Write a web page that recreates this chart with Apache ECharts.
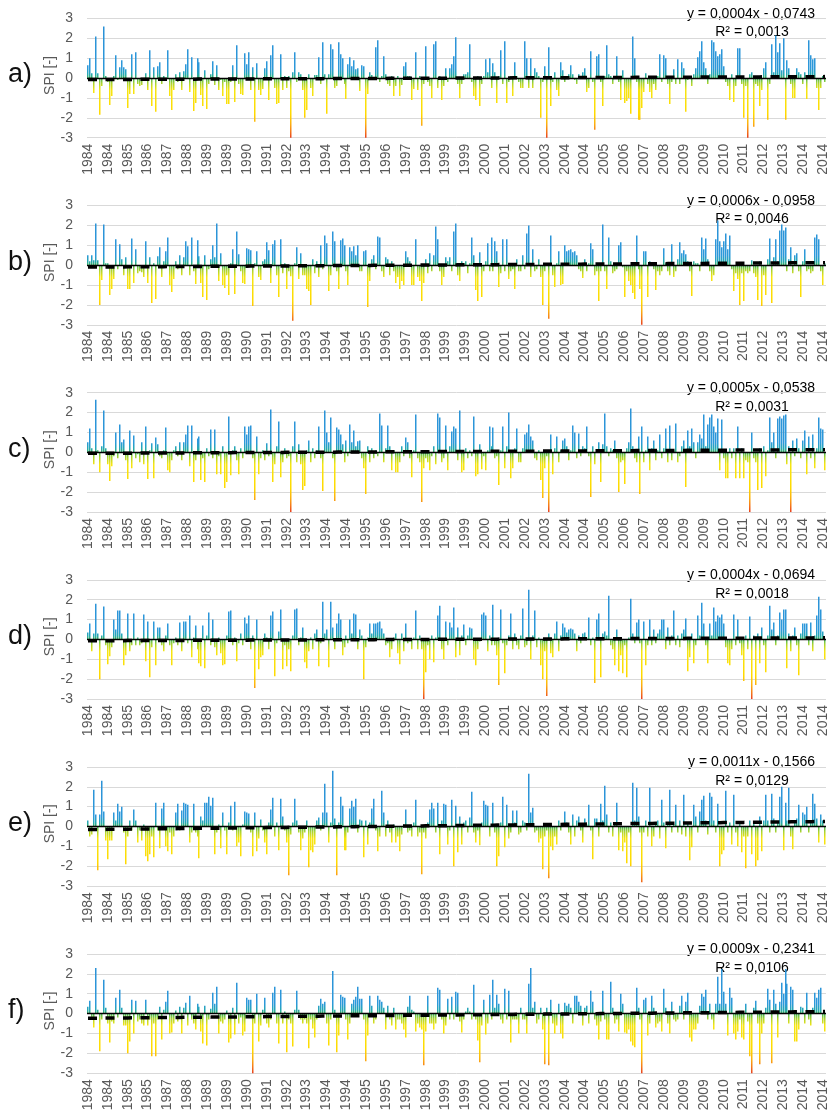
<!DOCTYPE html>
<html>
<head>
<meta charset="utf-8">
<title>SPI 1984-2014</title>
<script src="https://cdn.jsdelivr.net/npm/echarts@6/dist/echarts.min.js"></script>
<style>
html, body { margin: 0; padding: 0; background: #fff; }
#main { width: 830px; height: 1118px; }
</style>
</head>
<body>
<div id="main"></div>
<script>
// x axis tick labels (one every 10 months)
var ticksMain = ['1984','1984','1985','1986','1987','1988','1989','1989','1990','1991','1992','1993','1994','1994','1995','1996','1997','1998','1999','1999',
  '2000','2001','2002','2003','2004','2004','2005','2006','2007','2008','2009','2009','2010','2011','2012','2013','2014','2014'];
var ticksF = ['1984','1984','1985','1985','1987','1988','1989','1989','1990','1991','1992','1993','1994','1994','1995','1995','1997','1998','1999','1999',
  '2000','2001','2002','2003','2004','2004','2005','2005','2007','2008','2009','2009','2010','2011','2012','2013','2014','2014'];

// monthly SPI values, one row = one year (1984 ... 2014)
var spiA = [
  .65, 1.0, .25, -.75, 2.1, .25, -1.85, -.4, 2.6, .1, -.2, -1.35,
  -.9, .1, 1.15, -.1, .55, .9, .55, .45, -1.5, -.8, 1.2, -.8,
  1.3, -.3, -.4, -.35, -.1, .25, -.6, 1.4, -1.4, .55, -1.7, .6,
  .8, -.3, .1, -.1, 1.4, -.9, -1.6, -.6, .2, -.2, .3, -.6,
  .35, .7, 1.45, -.7, 1.05, -1.65, -1.25, 1.0, .8, -.85, -1.4, .4,
  -1.55, -.3, .2, .85, -.35, .65, -.6, -.1, -.9, -.2, -1.3, -1.3,
  -.2, .65, -1.2, 1.65, -.3, -.8, -.85, 1.25, .7, 1.3, -.6, .55,
  -2.2, .75, -.6, -.85, -.55, .5, .85, -1.1, 1.15, 1.65, -.5, -1.3,
  -1.25, 1.2, -.6, .1, -.5, .1, -3.0, .3, 1.3, -.2, .3, .2,
  -.6, -2.0, -1.6, .2, -.5, -.9, .15, .15, 1.05, -.3, 1.8, .2,
  -1.8, .2, 1.7, 1.45, -.5, -.4, 1.8, 1.2, 1.0, -.3, -1.05, .7,
  1.05, .6, .9, .45, .5, -.65, .65, .6, -3.0, -.8, .3, .15,
  -.1, 1.55, 1.9, -.2, .1, 1.1, .2, -.3, -.4, .1, -.9, -.4,
  .1, -.9, -.35, .6, .8, .1, .1, -1.1, -.55, 1.3, -.6, .1,
  -2.4, -.3, 1.6, -.2, -.4, -1.0, 1.7, 1.85, -.5, .1, -1.1, -.4,
  .5, -.2, .5, .7, 1.1, 2.05, -.3, -1.0, -.3, .2, .2, .3,
  1.7, -.2, -.9, -1.1, .1, -1.4, -.3, .1, .95, .3, 1.0, -.5,
  .75, .3, -1.25, .1, 1.4, -.3, 1.85, -1.25, -.2, .1, -.9, .8,
  .1, -.2, -.5, -.5, 1.85, 1.0, -.5, 1.0, -.5, .5, .3, .1,
  -2.0, -.2, .6, -3.0, 1.55, -1.4, -.2, .3, -.6, -.9, .8, .4,
  -.2, .1, .2, .65, .2, -.1, -.3, .2, .1, .3, .5, -.7,
  -.5, 1.35, -.2, -2.6, 1.1, 1.2, -.2, -1.4, .1, 1.65, .2, .1,
  -.3, .1, 1.1, -.2, -1.1, .4, -1.25, -1.15, -1.0, -1.8, 2.1, 1.0,
  -.2, -2.1, -2.1, -1.5, -.7, .25, -.3, -.7, -1.0, -.3, -.6, .1,
  1.2, -.2, 1.15, 1.0, -.3, -1.3, -.2, .45, -.3, .95, -.3, .8,
  .5, -1.7, -.1, .1, -.4, .2, .5, 1.05, 1.35, 1.85, .8, .5,
  -.3, .2, 1.9, 1.8, 1.35, 1.1, 1.2, 1.45, .6, -.2, -.4, -1.1,
  .2, -1.2, -.4, 1.5, 1.5, -.3, -2.0, -.4, -3.0, .2, .3, -2.45,
  -.3, -.4, -1.4, -.6, .5, .8, -2.1, -.3, 1.7, .3, 2.15, 1.3,
  1.75, .4, 2.0, -2.1, .9, .5, -.3, -1.0, -1.0, .5, .3, .2,
  -.3, .3, -1.05, 1.9, 1.15, .95, 1.0, -.5, -1.6, -.5, .1, -.2
];
var spiB = [
  .5, .2, .5, .25, 2.1, .25, -2.0, -.75, 2.05, .1, .1, -1.5,
  -1.2, -.7, 1.3, -.2, 1.05, .3, -.5, .4, -1.2, -1.2, 1.35, -.9,
  .8, -.4, -.3, -.35, -.6, 1.2, -.9, .4, -1.9, .1, -1.7, .45,
  .9, -.6, .2, .7, 1.4, -1.0, -1.35, -.7, .2, -.2, .5, -.5,
  .4, 1.2, .95, -.5, 1.4, -.3, -.95, 1.25, .45, -.9, -1.6, .5,
  -1.75, -.2, .3, 1.0, .4, 2.1, -.8, .6, -1.0, -1.15, -.5, -1.5,
  .1, .8, -1.45, 1.7, .55, -.3, -.9, -.95, .85, .8, .75, -2.05,
  .1, .7, -.6, -.75, .2, .3, 1.15, .75, -.9, 1.05, 1.25, -.5,
  -1.6, 1.3, -.4, .1, -1.2, -.3, -.55, -2.8, .1, .9, -.7, .6,
  -.5, -.5, -1.2, -1.3, -2.0, .3, -.4, .2, -.6, 1.0, -.2, 1.5,
  1.1, -1.3, -.5, 1.7, 1.2, -.3, -1.2, 1.25, 1.35, 1.0, -.3, -1.0,
  .9, .7, .95, .5, 1.0, -.3, -.3, .7, .75, -2.1, -.8, .3,
  .5, -.2, 1.45, 1.4, -.3, -.6, .4, .3, -.5, .2, -.3, -.9,
  -.6, -1.2, -.8, -1.0, .7, .4, .2, -1.0, -1.0, 1.3, -.6, -.8,
  -1.8, -.9, .3, -.4, .6, -.3, .5, 1.95, 1.3, -.3, -1.0, -.6,
  .4, .2, .4, -.3, 1.7, 2.1, -.5, -.8, .2, .1, .2, -.4,
  .1, 1.4, .5, -1.25, -1.8, .65, -1.6, -.3, .2, 1.1, -.3, 1.4,
  -.3, 1.2, .7, -1.1, -.4, 1.3, -.3, 1.3, -.7, -.3, -.2, -1.2,
  .3, -.3, -.3, .5, -.2, 1.6, 2.0, -.6, .8, -.3, -.2, .3,
  -.6, -2.0, -.3, .1, -2.7, 1.5, -.5, -1.1, .1, .7, -1.0, -.95,
  1.0, .7, .75, .8, .65, .7, .5, -.2, -.3, -.65, .3, -.3,
  .1, 1.1, .8, -.5, -.3, -1.8, -.3, 2.05, -.3, -1.2, 1.4, .2,
  -.4, -.3, -.2, 1.0, 1.15, -.1, -1.6, -.3, -.8, -1.0, -1.4, -1.7,
  1.5, -.2, -1.2, -3.0, .7, .7, -1.6, .2, .1, -.2, -1.25, -.3,
  -.5, -.3, .85, .1, -.3, -.5, 1.05, -.6, -.3, .3, 1.15, .6,
  .75, .55, .2, -.3, -1.55, .2, .1, .1, -.3, 1.4, .8, 1.35,
  .3, -.3, -.8, -.5, 1.3, 2.25, 1.2, .9, 1.2, 1.6, .8, 1.5,
  -.2, -1.3, -.4, -.7, -2.0, -.4, -1.8, -.3, -.4, -.3, .25, -.4,
  -.6, -1.75, .2, -2.05, -.5, -1.5, .3, 1.35, -1.9, .4, 1.3, .2,
  1.75, 2.05, 1.75, 1.9, -.3, .3, .9, -.4, .5, .6, -.3, -1.6,
  .2, .8, -.3, -.2, -.4, -.3, 1.4, 1.55, 1.3, -.3, -1.0, .1
];
var spiC = [
  .5, 1.2, .2, -.6, 2.65, .1, -1.0, .3, 2.1, .2, -.6, -1.45,
  -.7, -.2, 1.0, -.3, 1.4, .5, .65, -.4, -1.35, 1.1, -.8, .85,
  -.3, -.1, -.5, .5, -.6, 1.3, -1.35, .1, .45, -1.3, .75, .4,
  -.2, -.3, .1, 1.25, -.9, -1.0, -.4, .1, .3, -.2, .5, -.4,
  .5, .9, 1.35, -.7, 1.35, -1.5, -.4, .7, .8, -1.4, -.3, -1.5,
  .2, -.2, 1.15, -.3, 1.15, -1.1, -.2, -1.1, .3, -1.8, -1.5, 1.8,
  -1.15, .1, .3, -.4, -1.1, .2, -.3, 1.3, .9, 1.3, 1.35, -.3,
  -2.4, .8, -1.1, -.3, .1, -.4, .45, -.2, 2.15, -1.5, -.6, .3,
  1.55, -1.25, -.5, .2, -.3, -.2, -3.0, .3, 1.55, -.5, .4, -.6,
  -1.9, -1.7, .1, .6, -.5, .2, -.3, .1, 1.3, -.3, -1.95, 2.1,
  1.0, .5, 1.75, -.3, -2.45, 1.25, 1.15, .9, .4, -.5, .6, -.2,
  1.4, .5, 1.1, .3, .55, .6, -.3, -.8, -2.1, .3, -.5, .2,
  -.3, .1, -.2, 1.95, 1.35, -.5, .2, 1.35, .3, -.9, .1, -1.0,
  -1.0, -.5, .3, -.2, .75, .5, -.3, -1.25, .1, 1.9, -.3, -.5,
  -2.5, -.8, -.3, -.5, -.9, -.2, .3, -.6, 1.95, 1.75, -.5, -.3,
  1.35, -.9, .3, 1.05, 1.3, 1.2, -.4, 2.1, -1.0, -.9, .2, -.3,
  .1, -.2, 1.8, -1.2, -1.1, .4, -.85, -.2, -.9, .1, 1.3, .3,
  1.25, -.3, -.2, -1.65, .1, 1.3, -.8, .3, 2.0, -1.3, -.8, .2,
  1.2, -.5, -.5, .2, .9, 1.0, 1.4, .8, .6, -.3, -.4, .1,
  -1.4, -2.3, -.8, -.2, -3.0, .9, -1.1, .2, .8, -.5, .1, .6,
  .7, .3, -.4, .1, 1.35, 1.0, -.3, .95, -.2, .3, .2, 1.3,
  -.2, -2.25, .3, -.6, .1, .5, -1.5, .4, 1.95, .3, -.2, .2,
  .1, .6, -.3, -2.0, -.5, -.4, -1.6, .2, .5, 2.2, .3, -.3,
  -.5, .8, -2.1, 1.3, -.5, .1, .8, -.9, .2, .6, -.4, .1,
  .9, -.3, .2, 1.2, -.5, 1.35, -.4, .1, 1.45, -.5, -.2, .3,
  .6, -1.75, 1.1, .3, 1.2, .5, -.3, .5, .9, .7, 1.9, .3,
  1.4, 1.75, 1.9, 1.3, 1.0, 1.7, -.9, 1.65, -.3, -1.3, -1.3, .2,
  -.3, .2, -1.3, 1.3, -1.3, .2, -1.3, -.4, -.5, -3.0, 1.0, -.3,
  -.5, -1.9, .2, -1.8, .3, -1.2, .1, 1.75, .5, 1.0, -.3, 1.7,
  1.8, 1.7, 1.85, 1.9, -.6, .3, -3.0, .6, -.2, .7, .2, -.3,
  .6, 1.1, -1.1, .8, -.3, .9, -.8, .2, 1.75, 1.2, 1.15, -.9
];
var spiD = [
  .35, .8, -.6, .3, 1.8, .3, -2.0, .2, 1.65, -.3, -1.25, -.85,
  -.4, 1.0, .5, 1.45, 1.45, .3, -1.3, -.8, 1.3, -.6, -.3, 1.3,
  -.3, .1, -.3, -.2, 1.25, -1.1, .9, -1.9, -.4, .9, -1.3, .6,
  .6, -.3, -.6, .2, .8, -.3, -1.3, -.2, .1, -.3, .85, -.6,
  .9, .9, -.2, 1.2, -.9, .1, .7, -.5, -1.2, -1.35, .7, -1.45,
  .2, 1.35, -.3, 1.0, -.4, -.8, .1, -.7, -1.3, -1.25, .2, 1.4,
  1.45, -.3, .1, -1.1, -.2, .3, -.3, 1.1, .8, 1.2, -.5, .2,
  -2.45, 1.0, -1.5, -.9, -.8, .3, .1, -.5, 1.2, 1.4, -1.85, -.2,
  .4, 1.5, -1.5, -.3, -1.35, -.5, -1.6, .2, 1.5, 1.55, -.3, .1,
  .6, -1.15, -1.45, -.6, .1, -.5, .3, .5, -1.35, -.2, 1.9, .3,
  .5, -1.4, 1.9, .6, -.5, .8, 1.3, 1.0, -.8, -.4, .2, -.2,
  1.0, .3, 1.3, 1.25, -.5, .5, .2, -2.0, -.4, .1, .8, .3,
  .8, .8, .85, .9, .55, .3, -.3, -.2, -.9, -.5, .1, .3,
  -.7, -1.25, .3, -.6, .8, -.2, -.1, -.5, .1, 1.45, -.5, .2,
  -.5, -3.0, -1.65, -.3, -1.0, .2, -1.15, .1, 1.2, 1.7, -.5, -1.0,
  .9, -.3, .85, .6, 1.6, -.9, .6, -.8, .2, .75, -.3, .2,
  .6, .55, -1.0, -1.3, -.5, -.1, 1.25, 1.35, 1.2, -.6, .2, -.3,
  1.75, -.3, -.8, -2.3, 1.5, -.2, -1.7, -.3, .2, 1.3, -.5, .3,
  -.3, -.5, .2, 1.55, -.4, -.3, 2.5, -1.0, .2, 1.45, -.4, .1,
  -1.3, -2.0, -.6, -2.85, .3, -.7, -.9, .3, .9, -.6, .2, .8,
  .6, .35, .5, .55, .5, .3, -.6, .2, -.2, .3, .35, .1,
  1.1, -.3, .1, -2.2, 1.0, 1.3, -1.9, .3, .4, .2, 2.2, -.3,
  -.5, -1.3, .5, -1.6, -.8, -1.7, -.3, -1.9, .1, 2.05, .3, -.2,
  .85, 1.0, -.2, -3.0, .9, -1.3, -.3, 1.0, -.3, .5, -.2, .3,
  .5, 1.0, 1.0, -.5, .6, -.3, .2, 1.45, -.3, .2, -.4, .3,
  .5, 1.05, -1.6, -.9, .3, -1.2, -.3, 1.2, .2, 1.85, .8, -.3,
  -1.2, .8, .2, 1.6, .9, 1.2, 1.1, 1.25, .8, -.4, -1.2, -1.3,
  -.5, 1.25, -.3, 1.0, -.2, -.8, -2.1, .2, -.5, 1.15, -3.0, .2,
  -2.3, .3, -1.2, .6, -.3, -1.65, .2, 1.7, .5, .85, -.3, .2,
  1.35, 1.0, 1.5, 1.5, -1.45, .3, -.6, .2, .6, -.3, -1.8, .3,
  .8, .8, .8, -.3, .85, -.6, .2, 1.2, 2.15, 1.5, .4, -1.0
];
var spiE = [
  .3, -.5, -.4, 1.85, .6, -2.2, .6, 2.3, .75, -.7, -1.65, -.7,
  -.7, .7, .3, 1.15, .75, 1.0, -.3, -1.9, -.5, .3, -.2, .85,
  .3, -.8, -.2, -.7, .1, -1.5, -1.75, -1.4, -.5, -1.55, 1.2, -.2,
  -1.1, .9, 1.2, -1.0, -1.25, -.3, -1.4, -.5, .7, 1.15, -.2, .8,
  1.2, 1.15, 1.1, -.8, -.3, 1.15, -.3, -.5, -1.6, .5, .3, 1.2,
  1.2, 1.5, 1.05, 1.45, -1.4, -.3, .1, -1.1, .7, -.2, -1.4, .2,
  1.05, -.2, 1.25, -1.0, -.8, -1.5, .1, .75, .7, .65, -.3, -1.5,
  .7, -1.25, -.6, .35, -.2, -.8, -1.4, .2, .85, 1.45, -.5, .2,
  -1.2, 1.4, .5, -.2, -.8, -2.45, -.4, .2, 1.4, .3, -.3, -1.2,
  -.6, -.3, .3, -2.05, -1.2, -1.3, -.9, .3, .45, -.2, .7, 2.15,
  .7, -.8, .2, 2.8, .4, -2.45, .2, 1.5, 1.05, -1.2, -1.2, -.3,
  .9, 1.3, 1.0, 1.4, -.3, .35, .3, -1.55, .3, -.9, .2, .9,
  1.4, -.2, -1.25, -.5, 1.8, .7, -.5, .3, -.3, -.8, .1, -.8,
  -.5, -1.25, -.4, .1, .85, -.3, -.2, -.5, .2, 1.35, -.5, -.3,
  -2.4, -.3, -.6, .2, .85, 1.2, .9, -.3, 1.2, -1.4, .3, 1.15,
  1.1, -.9, -.2, 1.35, -2.0, 1.05, -1.3, .5, -.9, .2, .3, -.3,
  .45, 1.75, -.3, -.8, -.2, -.95, .2, 1.3, 1.1, 1.05, -.5, .1,
  1.2, -.3, -2.0, -1.5, .2, 1.5, -1.05, 1.1, -.6, -.3, .8, .2,
  .8, -.4, -.3, .3, .2, -.2, 2.65, .7, .95, -.3, -.2, -.8,
  -.6, -2.15, -.5, -.2, -2.6, -1.0, -1.2, -.5, -.9, .3, -.2, .1,
  .75, .2, -.3, -.9, .6, -.5, .3, .5, -.2, -.8, .4, .1,
  1.1, -.2, -1.65, .4, .4, -.5, 1.15, .3, 2.05, .6, -.3, .2,
  -.5, .1, 1.2, -1.2, -.3, -1.25, -.8, -1.85, -.3, -2.0, 2.2, .3,
  1.95, .5, -.3, -2.8, -.3, .3, -.5, 1.95, -1.0, -.5, .2, .3,
  -.6, 1.35, .2, -1.1, .1, 1.85, -.3, .1, 1.1, -.3, .3, -.4,
  1.6, -.5, .2, -1.7, -1.05, 1.1, .5, -.3, .75, 1.35, 1.55, .3,
  -.4, 1.7, 1.5, .3, -.3, 1.15, -2.0, -1.4, -1.2, 1.8, -.3, .2,
  -.9, 1.6, -.3, -1.0, .2, -1.3, -.5, -2.1, -.5, .3, -1.4, .2,
  -2.0, -1.7, .5, -1.25, .3, 1.6, .3, -.3, 1.65, .4, -.3, .2,
  1.5, 2.0, -1.2, 1.2, .3, 1.95, -.5, -1.15, .2, .4, 1.1, -.3,
  .7, .6, 1.0, -.3, .2, 1.65, 1.15, .4, -.8, .6, .3, -.9
];
var spiF = [
  .35, .65, -.3, -.7, 2.3, .2, -1.9, -.3, 1.7, .3, -.5, -1.45,
  -.4, -.5, .8, -.2, 1.2, .3, -.6, -.6, -2.0, -1.4, .7, -1.0,
  .65, -.4, -.3, -.5, -.6, .7, -.6, -.3, -2.15, -.5, -2.15, -.3,
  .35, -1.3, .2, .6, 1.15, -1.0, -.95, -.5, .15, -.4, .35, -1.0,
  .3, .55, -.6, .9, -.3, -.5, -.8, .5, .35, -.9, -1.5, .4,
  -1.6, -.3, .25, 1.05, .5, 1.35, -1.0, -.4, -.5, -.3, .15, -1.45,
  -1.25, .3, -1.05, 1.55, -.5, -.2, -1.1, -.9, .8, .7, .7, -3.0,
  -.5, 1.0, -1.4, -.6, .2, .8, -.5, -.7, -.3, 1.05, 1.35, -.5,
  -1.5, 1.2, -.5, .1, -1.95, -.3, -.5, -1.65, .2, 1.15, .2, -.3,
  -.5, -.3, -.5, -1.75, -.3, -.75, -1.2, -.3, .4, .75, .5, .6,
  -.5, -1.6, -.3, 2.15, .2, -1.95, -1.1, .95, .85, .8, -.3, -1.3,
  -.5, .5, .7, .85, 1.35, .75, .75, -.3, -2.4, -1.1, .9, .4,
  -.5, -.3, .9, .7, .6, .3, -.8, .4, -.3, -.6, .3, -.8,
  -.3, -.3, -.5, -.8, -1.2, .35, .9, .2, .1, -.9, -.5, -.7,
  -.8, -2.6, -.9, .9, -.5, -.5, -.8, -.5, 1.3, 1.2, -.3, -1.0,
  -.6, .75, -.3, .85, -.3, 1.1, 1.05, -.4, -.95, -.3, .1, .3,
  .1, -.3, 1.45, -.3, -1.35, -2.45, -.6, .7, -1.05, -.5, .95, -.3,
  1.7, .3, .95, .5, -.3, -.5, 1.25, -.3, 1.15, -1.45, -.3, -.3,
  -.3, -1.0, .3, -.3, -.3, -1.0, 1.5, 2.3, .3, .6, -.5, -.3,
  .3, -.8, -2.55, .3, -2.6, .7, -.5, -1.0, -.6, .5, -1.0, -1.25,
  .55, .4, .5, .3, -.5, .9, .9, .6, .4, -.6, .3, .4,
  -.5, 1.15, .6, -.3, -.6, -1.3, -.4, 1.15, -.3, -1.3, -1.3, 1.6,
  .3, -.5, -.3, -.9, 1.0, .5, -.95, -1.0, -.8, -1.4, -1.6, -1.7,
  1.3, .3, -.3, -3.0, .7, .8, -1.1, -.5, .9, .3, -.7, -.5,
  -.4, -.9, 1.25, .3, -.5, -1.0, .6, -.3, -.4, -.3, .4, .9,
  -.3, .6, 1.05, -1.2, -1.4, -.8, -.8, -.5, .4, 1.0, .85, 1.2,
  -.3, .5, -.3, -.8, .5, 1.85, .5, 2.25, 1.1, .5, -1.1, 1.3,
  .8, -1.0, -1.3, -.9, -.3, -1.2, -1.3, .5, -.4, -2.15, -3.0, .3,
  .65, -.5, -2.55, -1.0, -.5, .3, 1.25, .7, -2.5, 1.2, .5, -1.2,
  .6, 1.55, 1.0, 2.25, 1.5, -.5, 1.35, 1.2, -1.4, -1.4, -.8, .35,
  .3, -.5, 1.05, -.3, -.6, .3, 1.05, .8, 1.2, 1.3, -.5, -.9
];

var panelNames = ['a)', 'b)', 'c)', 'd)', 'e)', 'f)'];
var slopes = [0.0004, 0.0006, 0.0005, 0.0004, 0.0011, 0.0009];
var intercepts = [-0.0743, -0.0958, -0.0538, -0.0694, -0.1566, -0.2341];
var eqText = ['y = 0,0004x - 0,0743', 'y = 0,0006x - 0,0958', 'y = 0,0005x - 0,0538',
  'y = 0,0004x - 0,0694', 'y = 0,0011x - 0,1566', 'y = 0,0009x - 0,2341'];
var r2Text = ['R\u00b2 = 0,0013', 'R\u00b2 = 0,0046', 'R\u00b2 = 0,0031',
  'R\u00b2 = 0,0018', 'R\u00b2 = 0,0129', 'R\u00b2 = 0,0106'];

var allSpi = [spiA, spiB, spiC, spiD, spiE, spiF];
var allTicks = [ticksMain, ticksMain, ticksMain, ticksMain, ticksMain, ticksF];

var months = [];
for (var i = 0; i < spiA.length; i++) months.push(i + 1);

// colour ramp by SPI value: blue above zero, green at zero, yellow -> red below
var rampV = [3, 0.5, 0.2, 0, -0.25, -0.6, -1.8, -2.3, -2.7, -3];
var rampC = ['#2a90d6', '#2c98da', '#25a7b4', '#3cb560', '#a8d232', '#f6e512', '#ffda00', '#fcb010', '#f4761a', '#e8401f'];

function hexRgb(h) {
  return [parseInt(h.substr(1, 2), 16), parseInt(h.substr(3, 2), 16), parseInt(h.substr(5, 2), 16)];
}
function colorAt(v) {
  v = Math.max(-3, Math.min(3, v));
  for (var j = 0; j < rampV.length - 1; j++) {
    if (v <= rampV[j] && v >= rampV[j + 1]) {
      var t = (rampV[j] - v) / (rampV[j] - rampV[j + 1]);
      var a = hexRgb(rampC[j]), b = hexRgb(rampC[j + 1]);
      return 'rgb(' + Math.round(a[0] + (b[0] - a[0]) * t) + ',' + Math.round(a[1] + (b[1] - a[1]) * t) + ',' + Math.round(a[2] + (b[2] - a[2]) * t) + ')';
    }
  }
  return rampC[0];
}
// each bar gets its own slice of the ramp (offset 0 = top of the bar)
function barFill(v) {
  var hi = Math.max(v, 0), lo = Math.max(-3, Math.min(v, 0));
  if (hi - lo < 1e-6) return colorAt(0);
  var stops = [{ offset: 0, color: colorAt(hi) }];
  rampV.forEach(function (r, j) {
    if (r < hi && r > lo) stops.push({ offset: (hi - r) / (hi - lo), color: rampC[j] });
  });
  stops.push({ offset: 1, color: colorAt(lo) });
  return { type: 'linear', x: 0, y: 0, x2: 0, y2: 1, colorStops: stops };
}

// one thin bar per month, snapped to the pixel grid so every bar renders alike
function renderSpiBar(params, api) {
  var v = api.value(1);
  var p = api.coord([api.value(0), v]);
  var z = api.coord([api.value(0), 0]);
  var x = Math.round(p[0] - 0.75);
  var y0 = Math.min(p[1], z[1]), h = Math.abs(p[1] - z[1]);
  return {
    type: 'rect',
    shape: { x: x, y: y0, width: 1.5, height: h },
    style: { fill: barFill(v), stroke: null }
  };
}

var chart = echarts.init(document.getElementById('main'));
var FONT = '"Liberation Sans", Arial, sans-serif';
var left = 87, gw = 740;
var top0 = 18.5, step = 187.1, gh = 119.2;

var grids = [], xAxes = [], yAxes = [], series = [], graphics = [];

allSpi.forEach(function (vals, k) {
  var top = top0 + step * k;
  var ticks = allTicks[k];
  grids.push({ left: left, width: gw, top: top, height: gh });

  xAxes.push({
    type: 'category', gridIndex: k, data: months, boundaryGap: true,
    axisLine: { show: false }, axisTick: { show: false },
    axisLabel: {
      interval: 9, rotate: 90, margin: 6, fontSize: 14, color: '#595959', fontFamily: FONT,
      formatter: function (v, idx) { return ticks[idx / 10] || ''; }
    },
    splitLine: { show: false }
  });

  yAxes.push({
    type: 'value', gridIndex: k, min: -3, max: 3, interval: 1,
    axisLine: { show: false }, axisTick: { show: false },
    axisLabel: { fontSize: 14, color: '#595959', margin: 14, fontFamily: FONT },
    splitLine: { lineStyle: { color: '#d9d9d9', width: 1 } }
  });

  series.push({
    type: 'custom', xAxisIndex: k, yAxisIndex: k, z: 2,
    renderItem: renderSpiBar,
    encode: { x: 0, y: 1 },
    data: vals.map(function (v, i) { return [i, v]; }),
    markLine: {
      silent: true, symbol: 'none', label: { show: false },
      lineStyle: { color: '#000', width: 1.3, type: 'solid' },
      data: [{ yAxis: 0 }]
    }
  });

  series.push({
    type: 'line', xAxisIndex: k, yAxisIndex: k, symbol: 'none', z: 4,
    data: months.map(function (m) { return slopes[k] * m + intercepts[k]; }),
    lineStyle: { color: '#000', width: 3.5, type: [9, 8.5] }
  });

  graphics.push({
    type: 'text', x: 8, y: top + 56.5,
    style: { text: panelNames[k], font: '27px ' + FONT, fill: '#111', verticalAlign: 'middle' }
  });
  graphics.push({
    type: 'text', x: 50, y: top + 57, rotation: Math.PI / 2,
    style: { text: 'SPI [-]', font: '14px ' + FONT, fill: '#595959', align: 'center', verticalAlign: 'middle' }
  });
  graphics.push({
    type: 'text', x: 815, y: top - 4.5,
    style: { text: eqText[k], font: '14px ' + FONT, fill: '#000', align: 'right', verticalAlign: 'middle' }
  });
  graphics.push({
    type: 'text', x: 752, y: top + 14,
    style: { text: r2Text[k], font: '14px ' + FONT, fill: '#000', align: 'center', verticalAlign: 'middle' }
  });
});

chart.setOption({
  animation: false,
  backgroundColor: '#fff',
  grid: grids,
  xAxis: xAxes,
  yAxis: yAxes,
  series: series,
  graphic: graphics
});
</script>
</body>
</html>
